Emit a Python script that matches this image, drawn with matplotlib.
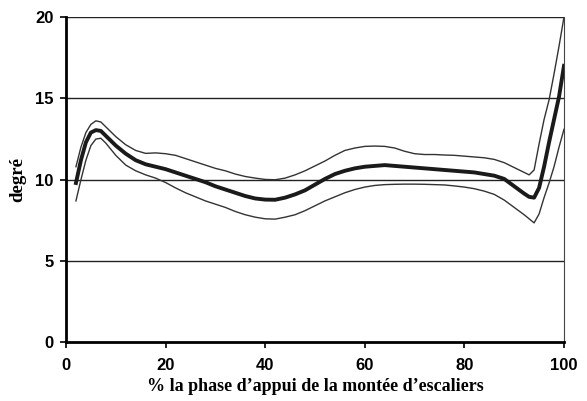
import numpy as np
import matplotlib.pyplot as plt

# % of stance phase during stair ascent
pct = [2, 3, 4, 5, 6, 7, 8, 10, 12, 14, 16, 18, 20, 22, 24, 26, 28, 30, 32, 34,
       36, 38, 40, 42, 44, 46, 48, 50, 52, 54, 56, 58, 60, 62, 64, 66, 68, 70,
       72, 74, 76, 78, 80, 82, 84, 86, 88, 90, 92, 93, 94, 95, 96, 97, 98, 99, 100]

mean = [9.8, 11.2, 12.3, 12.9, 13.05, 13.0, 12.7, 12.1, 11.6, 11.2, 10.95, 10.8,
        10.65, 10.45, 10.25, 10.05, 9.85, 9.6, 9.4, 9.2, 9.0, 8.85, 8.78, 8.77,
        8.9, 9.1, 9.35, 9.7, 10.05, 10.35, 10.55, 10.7, 10.8, 10.85, 10.9, 10.85,
        10.8, 10.75, 10.7, 10.65, 10.6, 10.55, 10.5, 10.45, 10.35, 10.25, 10.05,
        9.6, 9.15, 8.95, 8.9, 9.5, 10.8, 12.3, 13.7, 15.1, 17.0]

upper = [10.8, 12.0, 12.9, 13.4, 13.62, 13.55, 13.25, 12.65, 12.15, 11.8, 11.62,
         11.65, 11.6, 11.5, 11.3, 11.1, 10.9, 10.7, 10.55, 10.35, 10.2, 10.1,
         10.02, 10.0, 10.1, 10.3, 10.55, 10.85, 11.15, 11.5, 11.8, 11.95, 12.05,
         12.07, 12.05, 11.95, 11.75, 11.6, 11.55, 11.55, 11.52, 11.5, 11.45,
         11.4, 11.35, 11.25, 11.05, 10.75, 10.45, 10.3, 10.6, 12.2, 13.7, 14.9,
         16.5, 18.2, 20.0]

lower = [8.7, 10.0, 11.2, 12.1, 12.5, 12.55, 12.25, 11.5, 10.9, 10.55, 10.3,
         10.1, 9.83, 9.5, 9.2, 8.95, 8.7, 8.5, 8.3, 8.05, 7.85, 7.7, 7.6, 7.58,
         7.7, 7.85, 8.1, 8.4, 8.7, 8.95, 9.2, 9.4, 9.55, 9.65, 9.7, 9.72, 9.73,
         9.73, 9.72, 9.7, 9.68, 9.62, 9.55, 9.45, 9.3, 9.1, 8.75, 8.3, 7.85, 7.6,
         7.35, 7.9, 8.9, 9.8, 10.8, 12.0, 13.1]

fig = plt.figure(figsize=(5.87, 4.01), dpi=100)
ax = fig.add_axes([0.1124, 0.1459, 0.8484, 0.8117])

for yv in [5, 10, 15, 20]:
    ax.axhline(yv, color="#222222", lw=1.0, zorder=1)

ax.plot(pct, upper, color="#333333", lw=1.0, zorder=2)
ax.plot(pct, lower, color="#333333", lw=1.0, zorder=2)
ax.plot(pct, mean, color="#1a1a1a", lw=2.8, zorder=3)

ax.set_xlim(0, 100)
ax.set_ylim(0, 20)
ax.set_xticks([0, 20, 40, 60, 80, 100])
ax.set_yticks([0, 5, 10, 15, 20])

ax.spines["left"].set_linewidth(2.0)
ax.spines["bottom"].set_linewidth(2.0)
ax.spines["top"].set_visible(False)
ax.spines["right"].set_linewidth(0.8)
ax.spines["right"].set_color("#444444")

ax.tick_params(direction="out", length=4, width=1.2)
ax.tick_params(axis="x", pad=7)
ax.tick_params(axis="y", pad=5)
for lab in ax.get_xticklabels() + ax.get_yticklabels():
    lab.set_family("Liberation Sans")
    lab.set_fontweight("bold")
    lab.set_fontsize(12)

ax.set_xlabel("% la phase d\u2019appui de la montée d\u2019escaliers",
              family="Liberation Serif", fontweight="bold", fontsize=13, labelpad=4)
ax.set_ylabel("degré", family="Liberation Serif", fontweight="bold",
              fontsize=13.5, labelpad=6)

fig.savefig("out.png", dpi=100)
